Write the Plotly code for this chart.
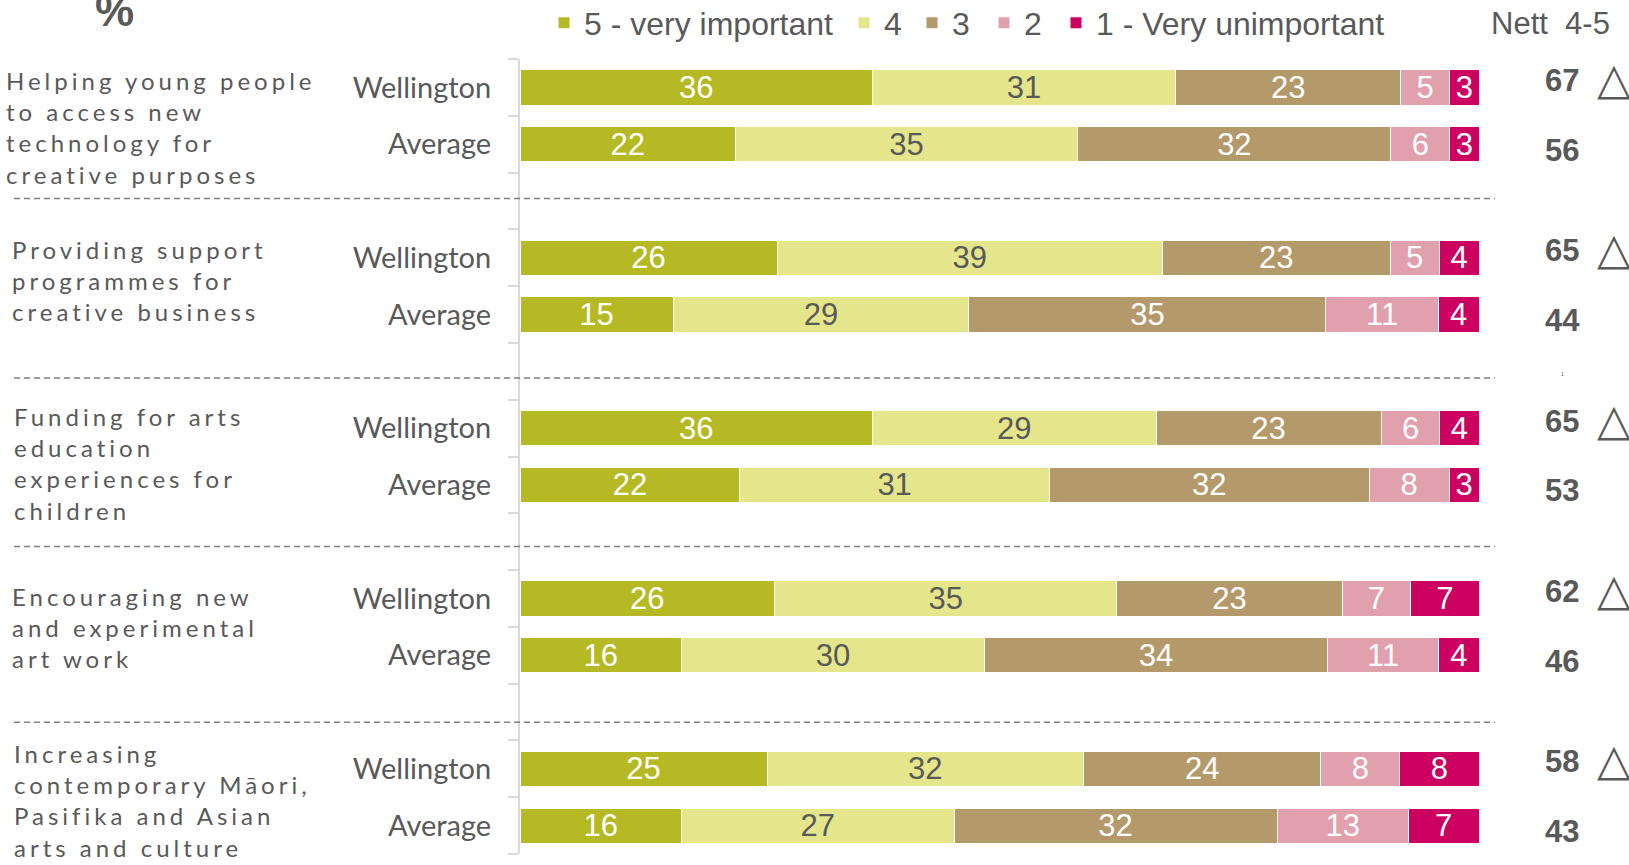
import plotly.graph_objects as go

# ---------------- data ----------------
groups = [
    "Helping young people<br>to access new<br>technology for<br>creative purposes",
    "Providing support<br>programmes for<br>creative business",
    "Funding for arts<br>education<br>experiences for<br>children",
    "Encouraging new<br>and experimental<br>art work",
    "Increasing<br>contemporary Māori,<br>Pasifika and Asian<br>arts and culture",
]
row_names = ["Wellington", "Average"]
series_names = ["5 - very important", "4", "3", "2", "1 - Very unimportant"]

wellington_5 = [36, 26, 36, 26, 25]
wellington_4 = [31, 39, 29, 35, 32]
wellington_3 = [23, 23, 23, 23, 24]
wellington_2 = [5, 5, 6, 7, 8]
wellington_1 = [3, 4, 4, 7, 8]

average_5 = [22, 15, 22, 16, 16]
average_4 = [35, 29, 31, 30, 27]
average_3 = [32, 35, 32, 34, 32]
average_2 = [6, 11, 8, 11, 13]
average_1 = [3, 4, 3, 4, 7]

nett_wellington = [67, 65, 65, 62, 58]
nett_average = [56, 44, 53, 46, 43]
significant = [True, True, True, True, True]

# ---------------- styles ----------------
colors = ["#B5BA24", "#E5E68C", "#B49A6A", "#E0A0AD", "#CC0060"]
text_colors = ["white", "#595959", "white", "white", "white"]
GRAY = "#595959"
BAR_FONT = "Liberation Sans, Arial, sans-serif"
LABEL_FONT = "Lato, Open Sans, sans-serif"
legend_text_px = [584, 884, 952, 1024, 1096]   # left edge of each legend text

# slot positions: each group = Wellington, Average, (blank)
n = len(groups)
pos_w = [3 * i for i in range(n)]
pos_a = [3 * i + 1 for i in range(n)]
n_slots = 3 * n - 1

wel = [wellington_5, wellington_4, wellington_3, wellington_2, wellington_1]
avg = [average_5, average_4, average_3, average_2, average_1]

# plot frame in pixels
W, H = 1629, 865
L, R = 520, 1479
T, B = 59, 854
pw, ph = R - L, B - T

def px_x(p):
    return (p - L) / pw

def px_y(p):
    return (B - p) / ph

fig = go.Figure()
for k, name in enumerate(series_names):
    ys = []
    xs = []
    for i in range(n):
        ys += [pos_w[i], pos_a[i]]
        xs += [wel[k][i], avg[k][i]]
    fig.add_trace(go.Bar(
        y=ys, x=xs, name=name, orientation="h",
        width=0.62,
        marker=dict(color=colors[k], line=dict(color="white", width=1)),
        text=[str(v) for v in xs], texttemplate="%{text}",
        textposition="inside", insidetextanchor="middle", textangle=0,
        textfont=dict(family=BAR_FONT, size=31, color=text_colors[k]),
        hoverinfo="skip",
        legend="legend" if k == 0 else "legend%d" % (k + 1),
    ))

annotations = []
# group labels (letter-spaced)
label_center = [0.70, 3.40, 6.62, 9.51, 12.55]
label_left_px = [4, 10, 12, 10, 12]
SP = '<span style="letter-spacing:4px">'
for i, g in enumerate(groups):
    annotations.append(dict(
        xref="paper", yref="y", x=px_x(label_left_px[i]), y=label_center[i],
        xanchor="left", yanchor="middle", align="left", showarrow=False,
        text=SP + g.replace("<br>", "</span><br>" + SP) + "</span>",
        font=dict(family=LABEL_FONT, size=24, color=GRAY),
    ))

# nett values and significance triangles
for i in range(n):
    annotations.append(dict(
        xref="paper", yref="y", x=px_x(1543), y=pos_w[i], yshift=7,
        xanchor="left", yanchor="middle", showarrow=False,
        text="<b>%d</b>" % nett_wellington[i],
        font=dict(family=BAR_FONT, size=31, color=GRAY),
    ))
    annotations.append(dict(
        xref="paper", yref="y", x=px_x(1543), y=pos_a[i], yshift=-6,
        xanchor="left", yanchor="middle", showarrow=False,
        text="<b>%d</b>" % nett_average[i],
        font=dict(family=BAR_FONT, size=31, color=GRAY),
    ))
    if significant[i]:
        annotations.append(dict(
            xref="paper", yref="y", x=px_x(1614), y=pos_w[i], yshift=9,
            xanchor="center", yanchor="middle", showarrow=False,
            text="△",
            font=dict(family="DejaVu Sans", size=44, color=GRAY),
        ))

annotations.append(dict(
    xref="paper", yref="paper", x=px_x(1550), y=px_y(23),
    xanchor="center", yanchor="middle", showarrow=False,
    text="Nett  4-5", font=dict(family=BAR_FONT, size=31, color=GRAY),
))
annotations.append(dict(
    xref="paper", yref="paper", x=px_x(114), y=px_y(37),
    xanchor="center", yanchor="bottom", showarrow=False,
    text="<b>%</b>", font=dict(family=BAR_FONT, size=44, color=GRAY),
))
# tiny stray footnote mark seen in the original
annotations.append(dict(
    xref="paper", yref="paper", x=px_x(1562), y=px_y(374),
    xanchor="center", yanchor="middle", showarrow=False,
    text="1", font=dict(family=BAR_FONT, size=5, color=GRAY),
))

# dashed separators between groups
separators = [1.955, 5.117, 8.085, 11.18]
shapes = []
for s in separators:
    shapes.append(dict(
        type="line", xref="paper", yref="y",
        x0=px_x(14), x1=px_x(1495), y0=s, y1=s,
        line=dict(color="#7F7F7F", width=1.5, dash="6px,4px"),
    ))

tickvals = []
ticktext = []
for i in range(n):
    tickvals += [pos_w[i], pos_a[i]]
    ticktext += row_names

legends = {}
for k in range(len(series_names)):
    key = "legend" if k == 0 else "legend%d" % (k + 1)
    legends[key] = dict(
        orientation="h", x=px_x(legend_text_px[k] - 40), y=px_y(23),
        xanchor="left", yanchor="middle",
        font=dict(family=BAR_FONT, size=32, color=GRAY),
        bgcolor="rgba(0,0,0,0)", borderwidth=0,
    )

fig.update_layout(
    width=W, height=H,
    margin=dict(l=L, r=W - R, t=T, b=H - B, pad=0, autoexpand=False),
    barmode="stack", barnorm="percent",
    paper_bgcolor="white", plot_bgcolor="white",
    uniformtext=dict(minsize=30, mode="show"),
    showlegend=True,
    xaxis=dict(visible=False, range=[0, 100], fixedrange=True),
    yaxis=dict(
        range=[n_slots - 0.5, -0.5],
        tickmode="array", tickvals=tickvals, ticktext=ticktext,
        ticks="", ticklabelstandoff=21,
        tickfont=dict(family=LABEL_FONT, size=29, color=GRAY),
        showline=True, linecolor="#D9D9D9", linewidth=2,
        showgrid=False, zeroline=False, fixedrange=True,
        minor=dict(tickmode="linear", tick0=-0.5, dtick=1, ticks="outside",
                   ticklen=10, tickcolor="#D9D9D9", tickwidth=2, showgrid=False),
    ),
    annotations=annotations,
    shapes=shapes,
    **legends,
)

fig.write_html("out.html", config={"displayModeBar": False},
               post_script="document.body.style.margin='0px';document.body.style.overflow='hidden';")
